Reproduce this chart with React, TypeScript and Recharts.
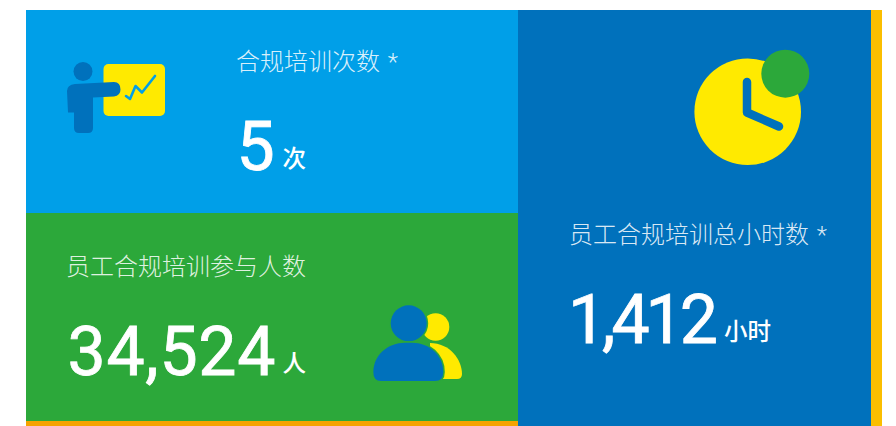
import React from 'react';
import { ComposedChart, XAxis, YAxis, ReferenceArea } from 'recharts';

const tileTitles = ['合规培训次数 *', '员工合规培训参与人数', '员工合规培训总小时数 *'];
const tileValues = [5, 34524, 1412];
const tileUnits = ['次', '人', '小时'];

const WIDTH = 896;
const HEIGHT = 426;
const FONT = "Roboto, 'Noto Sans CJK SC', sans-serif";

const SKY = '#009FE8';
const GREEN = '#2CA83A';
const BLUE = '#0071BC';
const YELLOW = '#FFEA00';

const kpis = tileTitles.map((title, i) => ({ title, value: tileValues[i], unit: tileUnits[i] }));

// where each tile puts its text
const textSlots = [
  { x: 236, titleY: 70, valueX: 236.5, valueY: 170, valueSpacing: 0, unitX: 282.5, unitY: 167 },
  { x: 66, titleY: 275, valueX: 67.5, valueY: 375, valueSpacing: 0.7, unitX: 282.5, unitY: 372 },
  { x: 569, titleY: 243, valueX: 568, valueY: 343, valueSpacing: -4.1, unitX: 724, unitY: 340 },
];

const TileText = () => (
  <g fontFamily={FONT}>
    {kpis.map((k, i) => {
      const s = textSlots[i];
      return (
        <g key={k.title}>
          <text x={s.x} y={s.titleY} fontSize={24} fontWeight={300} wordSpacing={2} fill="#fff" fillOpacity={0.86}>
            {k.title}
          </text>
          <text
            x={s.valueX}
            y={s.valueY}
            fontSize={68}
            fontWeight={400}
            letterSpacing={s.valueSpacing}
            fill="#fff"
            stroke="#fff"
            strokeWidth={0.8}
          >
            {k.value.toLocaleString('en-US')}
          </text>
          <text x={s.unitX} y={s.unitY} fontSize={23.5} fontWeight={500} fill="#fff">
            {k.unit}
          </text>
        </g>
      );
    })}
  </g>
);

const Icons = () => (
  <g>
    {/* presenter */}
    <rect x={103.5} y={64} width={61.5} height={52} rx={5} fill={YELLOW} />
    <circle cx={83} cy={71.5} r={9.5} fill={BLUE} />
    <path
      d="M75 84 L114 82 Q120.5 82 120.5 89.5 Q120.5 95.5 114 96.5 L93 97.5 L93 128 Q93 133 88 133 L79 133 Q74 133 74 128 L74 112.5 L68 112.5 L67 91 Q67 85 75 84 Z"
      fill={BLUE}
    />
    <polyline
      points="126,96 130,99 135.5,86 142,92.5 155,76"
      fill="none"
      stroke={SKY}
      strokeWidth={2.6}
      strokeLinecap="round"
      strokeLinejoin="round"
    />
    {/* people */}
    <circle cx={435.6} cy={327} r={13.7} fill={YELLOW} />
    <path d="M430 343 C450 343 462 360 462 374 Q462 379 457 379 L430 379 Z" fill={YELLOW} />
    <circle cx={408.7} cy={323.3} r={18} fill={BLUE} stroke={GREEN} strokeWidth={3} paintOrder="stroke" />
    <path
      d="M373.3 372 C373.3 355 388 342.7 405 342.7 L412 342.7 C429 342.7 443.3 355 443.3 372 Q443.3 381 435 381 L381 381 Q373.3 381 373.3 372 Z"
      fill={BLUE}
      stroke={GREEN}
      strokeWidth={3}
      paintOrder="stroke"
    />
    {/* clock */}
    <circle cx={747.7} cy={111.7} r={53.3} fill={YELLOW} />
    <circle cx={785.3} cy={73.7} r={24} fill={GREEN} />
    <polyline
      points="747,82 747,112.5 779,126.5"
      fill="none"
      stroke={BLUE}
      strokeWidth={8.5}
      strokeLinecap="round"
      strokeLinejoin="round"
    />
  </g>
);

// reference areas paint above plain children, so the tile content goes in one too
const Overlay = () => (
  <g>
    <Icons />
    <TileText />
  </g>
);

export default function App() {
  return (
    <div style={{ position: 'absolute', left: 0, top: 0, width: WIDTH, height: HEIGHT, background: '#fff' }}>
      <ComposedChart width={WIDTH} height={HEIGHT} data={kpis} margin={{ top: 0, right: 0, bottom: 0, left: 0 }}>
        <XAxis type="number" dataKey="value" domain={[0, WIDTH]} allowDataOverflow hide />
        <YAxis type="number" domain={[0, HEIGHT]} reversed allowDataOverflow hide />
        <ReferenceArea x1={26} x2={518} y1={10} y2={213} fill={SKY} fillOpacity={1} stroke="none" />
        <ReferenceArea x1={26} x2={518} y1={213} y2={421} fill={GREEN} fillOpacity={1} stroke="none" />
        <ReferenceArea x1={26} x2={518} y1={421} y2={426} fill="#F5A300" fillOpacity={1} stroke="none" />
        <ReferenceArea x1={518} x2={871} y1={10} y2={426} fill={BLUE} fillOpacity={1} stroke="none" />
        <ReferenceArea x1={871} x2={882} y1={10} y2={426} fill="#FBBE00" fillOpacity={1} stroke="none" />
        <ReferenceArea x1={0} x2={WIDTH} y1={0} y2={HEIGHT} shape={Overlay} />
      </ComposedChart>
    </div>
  );
}
